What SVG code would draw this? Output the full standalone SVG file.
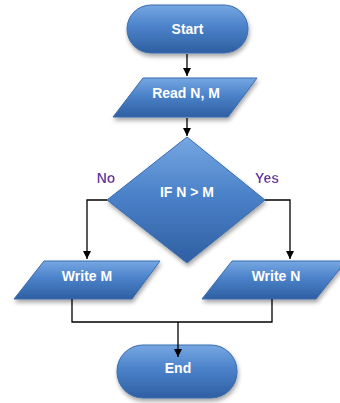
<svg xmlns="http://www.w3.org/2000/svg" width="340" height="403" viewBox="0 0 340 403">
  <defs>
    <linearGradient id="blue" x1="0" y1="0" x2="0" y2="1">
      <stop offset="0" stop-color="#76a7e2"/>
      <stop offset="0.45" stop-color="#4b82c9"/>
      <stop offset="1" stop-color="#2f5fa2"/>
    </linearGradient>
    <filter id="shadow" x="-20%" y="-20%" width="140%" height="150%">
      <feDropShadow dx="1" dy="3" stdDeviation="2" flood-color="#000" flood-opacity="0.35"/>
    </filter>
    <filter id="glow" x="-30%" y="-30%" width="160%" height="160%">
      <feMorphology in="SourceAlpha" operator="dilate" radius="1.5" result="d"/>
      <feGaussianBlur in="d" stdDeviation="1" result="b"/>
      <feFlood flood-color="#ffffff"/>
      <feComposite in2="b" operator="in" result="w"/>
      <feMerge><feMergeNode in="w"/><feMergeNode in="SourceGraphic"/></feMerge>
    </filter>
    <marker id="arrow" markerUnits="userSpaceOnUse" markerWidth="9" markerHeight="9" refX="8" refY="4" orient="auto">
      <path d="M0,0 L8,4 L0,8 z" fill="#000"/>
    </marker>
  </defs>
  <style>
    .shape { fill: url(#blue); stroke: #3a6cae; stroke-width: 1; filter: url(#shadow); }
    .label { fill: #ffffff; font-family: "Liberation Sans", Arial, sans-serif; font-weight: bold; font-size: 14px; text-anchor: middle; }
    .branch { fill: #7030a0; font-family: "Liberation Sans", Arial, sans-serif; font-weight: bold; font-size: 14px; text-anchor: middle; filter: url(#glow); }
    .conn { fill: none; stroke: #000; stroke-width: 1.3; }
  </style>

  <g id="start">
    <rect class="shape" x="127" y="5" width="121" height="48" rx="24" ry="24"/>
    <text class="label" x="187.5" y="34">Start</text>
  </g>

  <g id="read">
    <polygon class="shape" points="143,78 257,78 228,117 113,117"/>
    <text class="label" x="186" y="98">Read N, M</text>
  </g>

  <g id="decision">
    <polygon class="shape" points="187,137 265,200 187,263 107,200"/>
    <text class="label" x="187" y="197">IF N &gt; M</text>
  </g>

  <g id="label-no">
    <text class="branch" x="106" y="183">No</text>
  </g>
  <g id="label-yes">
    <text class="branch" x="267" y="183">Yes</text>
  </g>

  <g id="write-m">
    <polygon class="shape" points="44,261 160,261 132,299 14,299"/>
    <text class="label" x="87" y="281">Write M</text>
  </g>

  <g id="write-n">
    <polygon class="shape" points="232,261 346,261 316,299 202,299"/>
    <text class="label" x="276" y="281">Write N</text>
  </g>

  <g id="end">
    <rect class="shape" x="117" y="345" width="120" height="53" rx="26" ry="26"/>
    <text class="label" x="178" y="373">End</text>
  </g>

  <g id="connectors">
    <line class="conn" x1="187" y1="54" x2="187" y2="76" marker-end="url(#arrow)"/>
    <line class="conn" x1="187" y1="118" x2="187" y2="136" marker-end="url(#arrow)"/>
    <polyline class="conn" points="107,200 87,200 87,259" marker-end="url(#arrow)"/>
    <polyline class="conn" points="265,200 290,200 290,259" marker-end="url(#arrow)"/>
    <polyline class="conn" points="72,299 72,322 272,322 272,299"/>
    <line class="conn" x1="178" y1="322" x2="178" y2="357" marker-end="url(#arrow)"/>
  </g>
</svg>
